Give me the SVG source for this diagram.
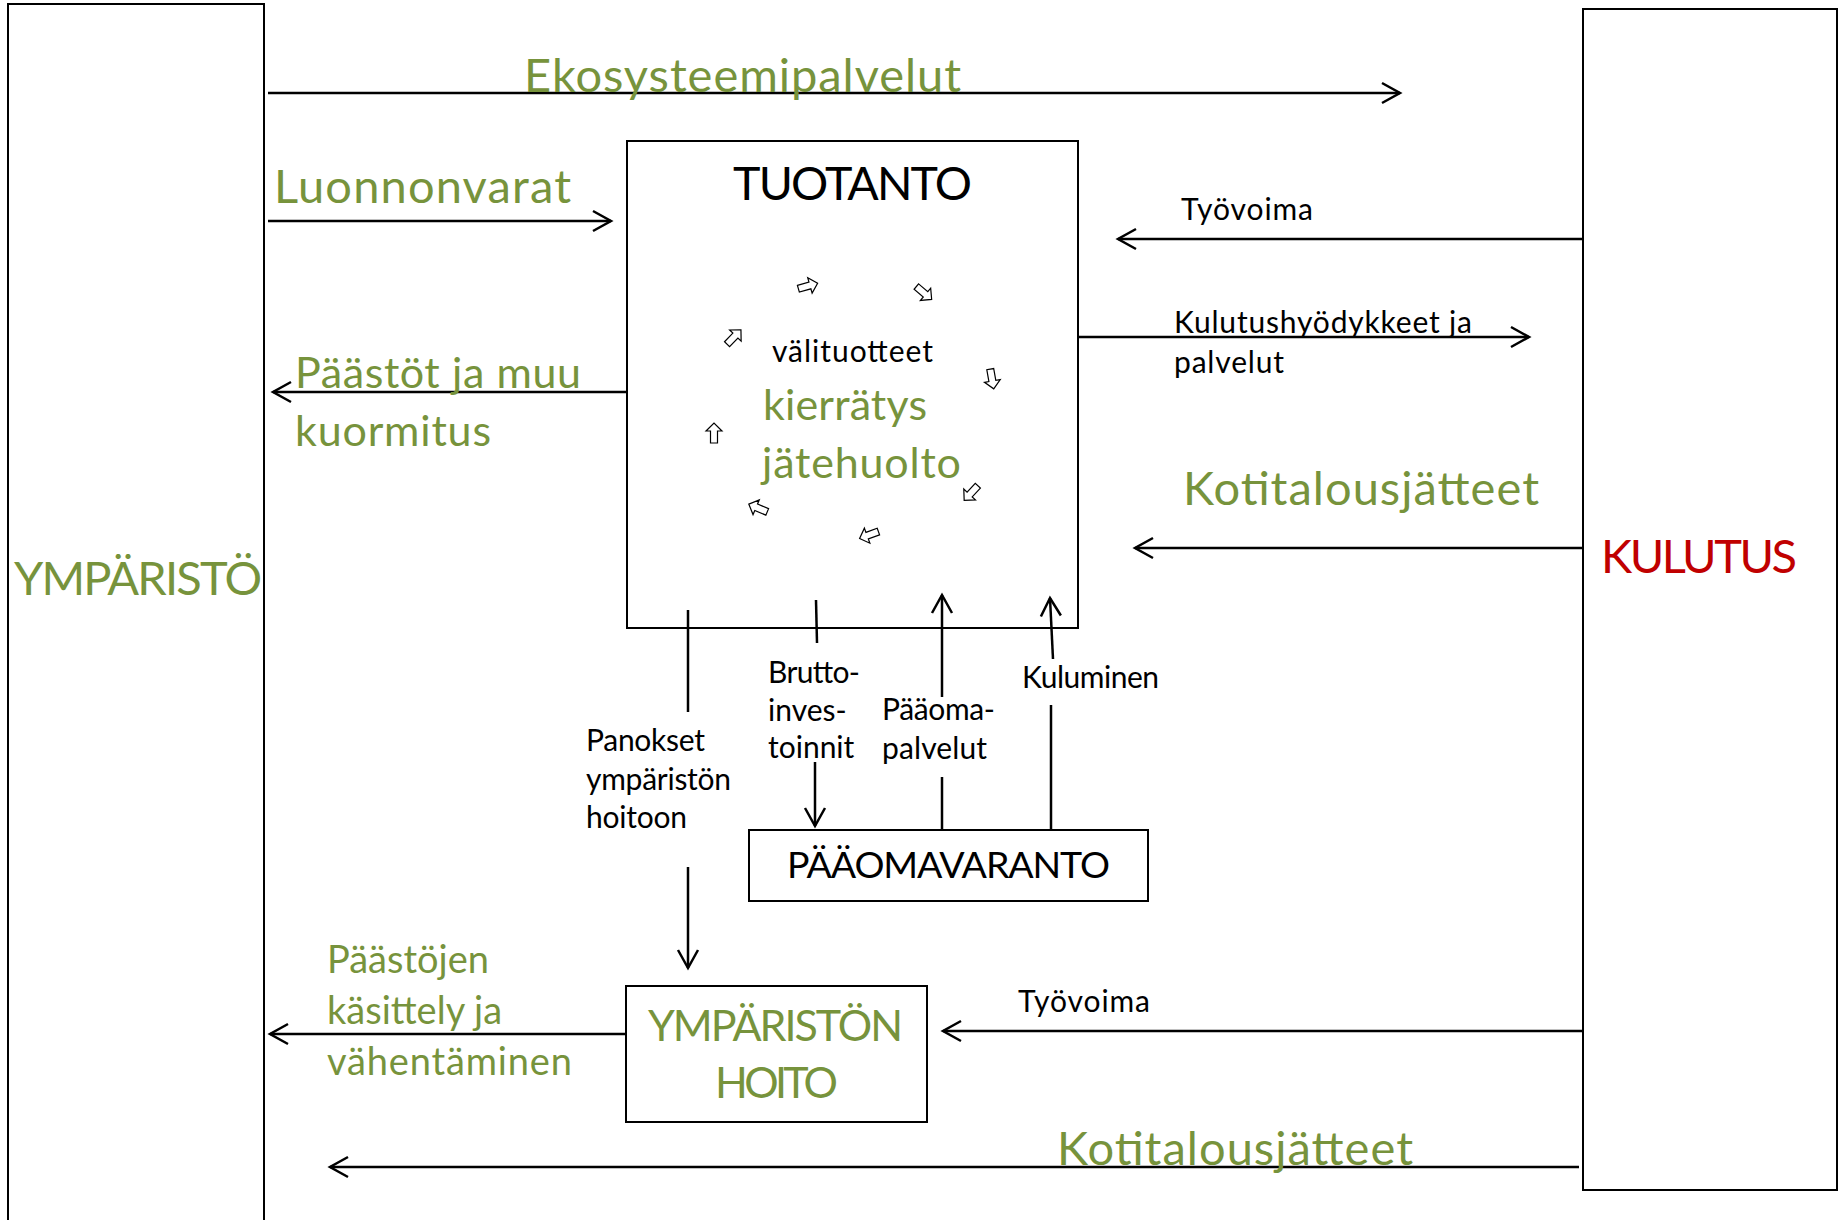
<svg xmlns="http://www.w3.org/2000/svg" xmlns:xlink="http://www.w3.org/1999/xlink" width="1841" height="1220" viewBox="0 0 1841 1220">
<style>
  .box { fill: none; stroke: #000; stroke-width: 2; }
  .ln { fill: none; stroke: #000; stroke-width: 2.5; }
  .ar { fill: none; stroke: #000; stroke-width: 2.5; marker-end: url(#ah); }
  text { font-family: Lato, "Liberation Sans", sans-serif; }
  .g { fill: #77933c; }
  .k { fill: #000; }
  .r { fill: #c00000; }
  .big { font-size: 47px; }
  .mid { font-size: 43px; }
  .sm { font-size: 30px; }
  .ba { fill: #fff; stroke: #000; stroke-width: 1.2; }
</style>
<defs>
  <marker id="ah" markerUnits="userSpaceOnUse" viewBox="0 0 24 24" markerWidth="24" markerHeight="24" refX="21" refY="12" orient="auto">
    <path d="M3,2 L21,12 L3,22" fill="none" stroke="#000" stroke-width="2.5"/>
  </marker>
  <path id="blk" class="ba" d="M-10,-3.5 H2 V-8 L10,0 L2,8 V3.5 H-10 Z"/>
</defs>

<g id="ymparisto">
  <path class="box" d="M8,1222 V4 H264 V1222"/>
  <text class="g big" x="14" y="595" textLength="248">YMPÄRISTÖ</text>
</g>

<g id="kulutus">
  <rect class="box" x="1583" y="9" width="254" height="1181"/>
  <text class="r big" x="1601" y="573" textLength="196">KULUTUS</text>
</g>

<g id="tuotanto">
  <rect class="box" x="627" y="141" width="451" height="487"/>
  <text class="k" x="733" y="200" font-size="46.5" textLength="239">TUOTANTO</text>
  <text class="k sm" x="772" y="362" textLength="161">välituotteet</text>
  <text class="g mid" x="763" y="420" textLength="164">kierrätys</text>
  <text class="g mid" x="762" y="478" textLength="199">jätehuolto</text>
  <g id="kierto">
    <use xlink:href="#blk" transform="translate(808,286) rotate(-16)"/>
    <use xlink:href="#blk" transform="translate(924,293) rotate(40)"/>
    <use xlink:href="#blk" transform="translate(992,379) rotate(80)"/>
    <use xlink:href="#blk" transform="translate(971,493) rotate(133)"/>
    <use xlink:href="#blk" transform="translate(869,535) rotate(160)"/>
    <use xlink:href="#blk" transform="translate(758,508) rotate(203)"/>
    <use xlink:href="#blk" transform="translate(714,433) rotate(-90)"/>
    <use xlink:href="#blk" transform="translate(734,337) rotate(-46)"/>
  </g>
</g>

<g id="paaomavaranto">
  <rect class="box" x="749" y="830" width="399" height="71"/>
  <text class="k" x="787" y="878" font-size="37.5" textLength="323">PÄÄOMAVARANTO</text>
</g>

<g id="ympariston-hoito">
  <rect class="box" x="626" y="986" width="301" height="136"/>
  <text class="g mid" x="648" y="1041" textLength="255">YMPÄRISTÖN</text>
  <text class="g mid" x="715" y="1098" textLength="123">HOITO</text>
</g>

<g id="connectors">
  <line class="ar" x1="268" y1="93" x2="1400" y2="93"/>
  <line class="ar" x1="268" y1="221" x2="611" y2="221"/>
  <line class="ar" x1="627" y1="392" x2="273" y2="392"/>
  <line class="ar" x1="1583" y1="239" x2="1118" y2="239"/>
  <line class="ar" x1="1078" y1="337" x2="1529" y2="337"/>
  <line class="ar" x1="1583" y1="548" x2="1135" y2="548"/>
  <line class="ar" x1="1583" y1="1031" x2="943" y2="1031"/>
  <line class="ar" x1="626" y1="1034" x2="270" y2="1034"/>
  <line class="ar" x1="1579" y1="1167" x2="330" y2="1167"/>

  <line class="ln" x1="688" y1="610" x2="688" y2="712"/>
  <line class="ar" x1="688" y1="867" x2="688" y2="968"/>
  <line class="ln" x1="816" y1="600" x2="817" y2="643"/>
  <line class="ar" x1="815" y1="762" x2="815" y2="826"/>
  <line class="ln" x1="942" y1="777" x2="942" y2="830"/>
  <line class="ar" x1="942" y1="697" x2="942" y2="595"/>
  <line class="ln" x1="1051" y1="705" x2="1051" y2="830"/>
  <line class="ar" x1="1053" y1="659" x2="1050" y2="598"/>
</g>

<g id="labels">
  <text class="g big" x="524" y="92" textLength="437">Ekosysteemipalvelut</text>
  <text class="g big" x="274" y="203" textLength="297">Luonnonvarat</text>
  <text class="g mid" x="295" y="388" textLength="286">Päästöt ja muu</text>
  <text class="g mid" x="295" y="446" textLength="196">kuormitus</text>
  <text class="k sm" x="1181" y="220" textLength="132">Työvoima</text>
  <text class="k sm" x="1174" y="333" textLength="298">Kulutushyödykkeet ja</text>
  <text class="k sm" x="1174" y="373" textLength="110">palvelut</text>
  <text class="g big" x="1183" y="505" textLength="356">Kotitalousjätteet</text>
  <text class="k sm" x="586" y="751" textLength="119">Panokset</text>
  <text class="k sm" x="586" y="790" textLength="145">ympäristön</text>
  <text class="k sm" x="586" y="828" textLength="101">hoitoon</text>
  <text class="k sm" x="768" y="683" textLength="92">Brutto-</text>
  <text class="k sm" x="768" y="721">inves-</text>
  <text class="k sm" x="768" y="758">toinnit</text>
  <text class="k sm" x="882" y="720" textLength="113">Pääoma-</text>
  <text class="k sm" x="882" y="759" textLength="105">palvelut</text>
  <text class="k sm" x="1022" y="688" textLength="137">Kuluminen</text>
  <text class="k sm" x="1018" y="1012" textLength="132">Työvoima</text>
  <text class="g" x="327" y="973" font-size="38">Päästöjen</text>
  <text class="g" x="327" y="1024" font-size="38">käsittely ja</text>
  <text class="g" x="327" y="1075" font-size="38" textLength="245">vähentäminen</text>
  <text class="g big" x="1057" y="1165" textLength="356">Kotitalousjätteet</text>
</g>
</svg>
